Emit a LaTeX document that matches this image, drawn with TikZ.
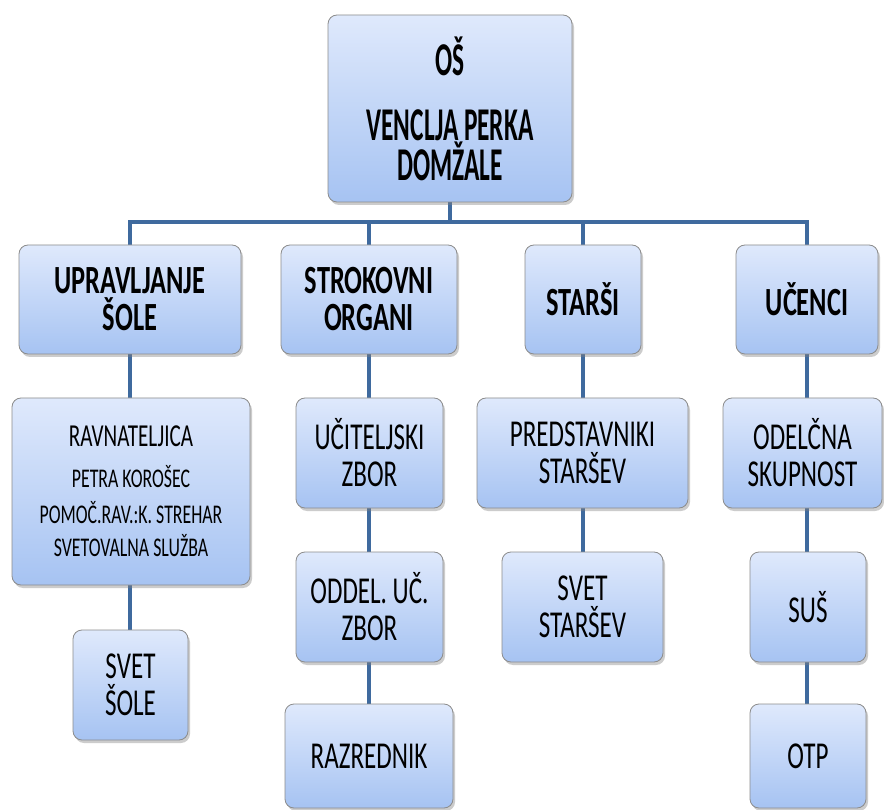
\documentclass[tikz,border=0pt]{standalone}
\usepackage{fontspec}
\setmainfont[FakeStretch=0.66]{Carlito}
\newfontfamily\topfont[FakeStretch=0.54]{Carlito}
\usetikzlibrary{shadows,backgrounds}
\definecolor{boxtop}{HTML}{DFE9FC}
\definecolor{boxbot}{HTML}{A6C3F2}
\definecolor{boxline}{HTML}{8C8C8C}
\definecolor{conncol}{HTML}{3F6A9E}
\begin{document}
\begin{tikzpicture}[x=1pt,y=-1pt,
  box/.style={draw=boxline, line width=0.8pt, rounded corners=9pt,
    top color=boxtop, bottom color=boxbot,
    drop shadow={shadow xshift=2pt,shadow yshift=-3pt,opacity=0.4},
    align=center, inner sep=0pt, text=black},
  rowtwo/.style={box, font=\fontsize{40}{37}\selectfont\bfseries},
  reg/.style={box, font=\fontsize{38}{37}\selectfont},
  conn/.style={draw=conncol, line width=4pt}]
\useasboundingbox (0,0) rectangle (884,810);

% top
\node[box, font=\topfont\bfseries\fontsize{47}{37}\selectfont,
  minimum width=244pt, minimum height=187pt] (top) at (450,108.5)
  {OŠ\\[28pt]VENCLJA PERKA\\DOMŽALE};

% row 2
\node[rowtwo, minimum width=222pt, minimum height=109pt] (upr) at (130,299.5) {UPRAVLJANJE\\ŠOLE};
\node[rowtwo, minimum width=176pt, minimum height=109pt] (strok) at (369,299.5) {STROKOVNI\\ORGANI};
\node[rowtwo, minimum width=116pt, minimum height=109pt] (stars) at (583,299.5) {STARŠI};
\node[rowtwo, minimum width=142pt, minimum height=109pt] (ucenci) at (807,299.5) {UČENCI};

% row 3
\node[box, font=\fontsize{27}{36}\selectfont, minimum width=238pt, minimum height=187pt] (ravn) at (131,491.5)
  {{\fontsize{32}{36}\selectfont RAVNATELJICA}\\[5pt]PETRA KOROŠEC\\POMOČ.RAV.:K. STREHAR\\[-3pt]SVETOVALNA SLUŽBA};
\node[reg, minimum width=147pt, minimum height=110pt] (ucit) at (369.5,453) {UČITELJSKI\\ZBOR};
\node[reg, minimum width=211pt, minimum height=110pt] (pred) at (582.5,453) {PREDSTAVNIKI\\STARŠEV};
\node[reg, minimum width=159pt, minimum height=110pt] (odel) at (802.5,453) {ODELČNA\\SKUPNOST};

% row 4
\node[reg, minimum width=115pt, minimum height=110pt] (svetsole) at (130.5,685) {SVET\\ŠOLE};
\node[reg, minimum width=147pt, minimum height=110pt] (oddel) at (369.5,607) {ODDEL. UČ.\\ZBOR};
\node[reg, minimum width=161pt, minimum height=110pt] (svetst) at (582.5,607) {SVET\\STARŠEV};
\node[reg, minimum width=116pt, minimum height=110pt] (sus) at (808,607) {SUŠ};

% row 5
\node[reg, minimum width=168pt, minimum height=104pt] (razr) at (369,756) {RAZREDNIK};
\node[reg, minimum width=116pt, minimum height=104pt] (otp) at (808,756) {OTP};

\begin{scope}[on background layer]
  \fill[white] (0,0) rectangle (884,810);
  \coordinate (bus) at (0,222);
  \draw[conn] (top.south) -- (top.south |- bus);
  \draw[conn] (upr.north) -- (upr.north |- bus) -- (ucenci.north |- bus) -- (ucenci.north);
  \draw[conn] (strok.north) -- (strok.north |- bus);
  \draw[conn] (stars.north) -- (stars.north |- bus);
  % column 1
  \draw[conn] (upr.south) -- (upr.south |- ravn.north);
  \draw[conn] (upr.south |- ravn.south) -- (upr.south |- svetsole.north);
  % column 2
  \draw[conn] (strok.south) -- (strok.south |- ucit.north);
  \draw[conn] (strok.south |- ucit.south) -- (strok.south |- oddel.north);
  \draw[conn] (strok.south |- oddel.south) -- (strok.south |- razr.north);
  % column 3
  \draw[conn] (stars.south) -- (stars.south |- pred.north);
  \draw[conn] (stars.south |- pred.south) -- (stars.south |- svetst.north);
  % column 4
  \draw[conn] (ucenci.south) -- (ucenci.south |- odel.north);
  \draw[conn] (ucenci.south |- odel.south) -- (ucenci.south |- sus.north);
  \draw[conn] (ucenci.south |- sus.south) -- (ucenci.south |- otp.north);
\end{scope}
\end{tikzpicture}
\end{document}
